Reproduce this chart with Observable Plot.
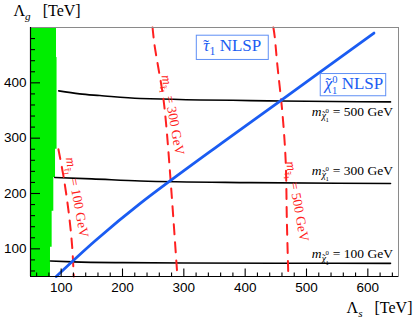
<!DOCTYPE html>
<html>
<head>
<meta charset="utf-8">
<script src="https://cdn.jsdelivr.net/npm/d3@7"></script>
<script src="https://cdn.jsdelivr.net/npm/@observablehq/plot@0.6"></script>
<style>
html,body{margin:0;padding:0;background:#fff;}
#chart svg{display:block;}
</style>
</head>
<body>
<div id="chart"></div>
<script>
// ---------------- data ----------------
const xDomain = [50, 650];
const yDomain = [50, 500];
const xTicks = [100, 200, 300, 400, 500, 600];
const yTicks = [100, 200, 300, 400];
const xMinor = d3.range(60, 650, 20).filter(v => v % 100 !== 0);
const yMinor = d3.range(60, 500, 20).filter(v => v % 100 !== 0);

const titleX = "Λs [TeV]";
const titleY = "Λg [TeV]";

// excluded (green) region, stepped right edge
const greenYLow  = [50, 103, 168, 229, 280, 446];
const greenYHigh = [103, 168, 229, 280, 446, 500];
const greenXEdge = [82.6, 85.3, 88, 90.8, 93.3, 92.4];

// neutralino mass contours (black)
const chi100X = [82.6, 120, 200, 300, 450, 637];
const chi100Y = [78, 76.5, 75, 74.3, 74, 73.8];
const chi300X = [89.6, 150, 229, 409, 637];
const chi300Y = [229, 226.5, 222.6, 219.7, 218];
const chi500X = [96, 130, 163, 229, 458, 637];
const chi500Y = [385.4, 380, 377, 371.6, 367.3, 365.5];

// stau mass contours (red dashed)
const stau100X = [95.5, 104.4, 112.5, 118, 120.5];
const stau100Y = [280, 227, 164, 103, 50];
const stau300X = [249, 252, 258, 266, 271, 280, 289.5];
const stau300Y = [500, 470, 430, 377, 327, 200, 50];
const stau500X = [446, 448, 452.5, 460.6, 466, 468, 470.4];
const stau500Y = [500, 485, 432, 347, 260, 150, 50];

// NLSP boundary (blue)
const nlspLineX = [92, 156, 229, 368, 458, 610];
const nlspLineY = [50, 115, 182, 296, 368, 490];

// labels
const stauLabels = ["mτ̃1 = 100 GeV", "mτ̃1 = 300 GeV", "mτ̃1 = 500 GeV"];
const stauLabelX = [126, 282, 485];
const stauLabelY = [193, 342, 186];
const chiLabels = ["mχ̃10 = 100 GeV", "mχ̃10 = 300 GeV", "mχ̃10 = 500 GeV"];
const chiLabelX = [641, 641, 641];
const chiLabelY = [90.9, 241.7, 347.7];
const nlspLabels = ["τ̃1 NLSP", "χ̃10 NLSP"];
const nlspLabelX = [379, 577.4];
const nlspLabelY = [467, 398.7];

// ---------------- build rows ----------------
const greenRows = greenYLow.flatMap((y1, i) => [
  {y: y1, x1: xDomain[0], x2: greenXEdge[i]},
  {y: greenYHigh[i], x1: xDomain[0], x2: greenXEdge[i]}
]);
const zip = (X, Y, k) => X.map((x, i) => ({x, y: Y[i], k}));
const chiRows = [...zip(chi100X, chi100Y, 100), ...zip(chi300X, chi300Y, 300), ...zip(chi500X, chi500Y, 500)];
const stauRows = [...zip(stau100X, stau100Y, 100), ...zip(stau300X, stau300Y, 300), ...zip(stau500X, stau500Y, 500)];
const nlspRows = zip(nlspLineX, nlspLineY, 0);
const stauLabelRows = stauLabels.map((t, i) => ({t, x: stauLabelX[i], y: stauLabelY[i]}));
const chiLabelRows = chiLabels.map((t, i) => ({t, x: chiLabelX[i], y: chiLabelY[i]}));
const nlspLabelRows = nlspLabels.map((t, i) => ({t, x: nlspLabelX[i], y: nlspLabelY[i]}));

const serif = "Liberation Serif, Times New Roman, serif";
const RED = "#ff2020", BLUE = "#1a5cf2", GREEN = "#00ee00";
const W = 415, H = 318, ML = 30, MR = 17, MT = 27, MB = 42;
const FW = W - ML - MR, FH = H - MT - MB;

const chart = Plot.plot({
  width: W,
  height: H,
  marginLeft: ML, marginRight: MR, marginTop: MT, marginBottom: MB,
  style: {fontFamily: "Liberation Sans, Arial, sans-serif", fontSize: "13.5px", background: "#fff", color: "#000", overflow: "visible"},
  x: {domain: xDomain, label: null},
  y: {domain: yDomain, label: null},
  marks: [
    Plot.areaX(greenRows, {y: "y", x1: "x1", x2: "x2", fill: GREEN, curve: "linear"}),
    Plot.line(chiRows, {x: "x", y: "y", z: "k", stroke: "#000", strokeWidth: 1.6, curve: "monotone-x"}),
    Plot.line(stauRows, {x: "x", y: "y", z: "k", stroke: RED, strokeWidth: 2, strokeDasharray: "10,8", curve: "catmull-rom"}),
    Plot.line(nlspRows, {x: "x", y: "y", stroke: BLUE, strokeWidth: 2.8, curve: "catmull-rom"}),
    Plot.text(stauLabelRows, {x: "x", y: "y", text: "t", rotate: 80, fill: RED, fontSize: 13.5, fontFamily: serif}),
    Plot.text(chiLabelRows, {x: "x", y: "y", text: "t", textAnchor: "end", fill: "#000", fontSize: 13.5, fontFamily: serif}),
    Plot.text(nlspLabelRows, {x: "x", y: "y", text: "t", fill: BLUE, fontSize: 17, fontFamily: serif}),
    // tick labels
    Plot.axisX(xTicks, {tickSize: 0, tickPadding: 6, label: null}),
    Plot.axisY(yTicks, {tickSize: 0, tickPadding: 4, label: null}),
    // inward tick marks (rules clipped to tick length by insets)
    Plot.ruleX(xTicks, {x: d => d, insetTop: FH - 7.5, stroke: "#000", strokeWidth: 1.1}),
    Plot.ruleX(xMinor, {x: d => d, insetTop: FH - 3.5, stroke: "#000", strokeWidth: 1.1}),
    Plot.ruleY(yTicks, {y: d => d, insetRight: FW - 10, stroke: "#000", strokeWidth: 1.1}),
    Plot.ruleY(yMinor, {y: d => d, insetRight: FW - 5, stroke: "#000", strokeWidth: 1.1}),
    Plot.frame({stroke: "#8a8a8a"}),
    Plot.ruleX([xDomain[0]], {stroke: "#000", strokeWidth: 1.2}),
    Plot.ruleY([yDomain[0]], {stroke: "#000", strokeWidth: 1.2}),
    // axis titles
    Plot.text([titleY], {x: () => xDomain[0], y: () => yDomain[1], dx: -17, dy: -12, textAnchor: "start", lineAnchor: "bottom", fontSize: 16, fontFamily: serif, fill: "#000"}),
    Plot.text([titleX], {x: () => xDomain[1], y: () => yDomain[0], dx: 14, dy: 36, textAnchor: "end", lineAnchor: "bottom", fontSize: 16, fontFamily: serif, fill: "#000"})
  ]
});
document.getElementById("chart").appendChild(chart);

// ---------------- rich text (sub/superscripts, tildes) ----------------
const NS = "http://www.w3.org/2000/svg";
function rich(el, segs, fs) {
  while (el.firstChild) el.removeChild(el.firstChild);
  for (const s of segs) {
    const t = document.createElementNS(NS, "tspan");
    t.textContent = s.t;
    if (s.i) t.setAttribute("font-style", "italic");
    if (s.s) t.setAttribute("font-size", (fs * s.s).toFixed(2));
    if (s.dy) t.setAttribute("dy", (fs * s.dy).toFixed(2));
    if (s.dx) t.setAttribute("dx", (fs * s.dx).toFixed(2));
    el.appendChild(t);
  }
}
const nb = "\u00a0";
const TL = "\u02dc";
const stauSegs = m => [
  {t: "m", i: 1},
  {t: "τ", i: 1, s: 0.72, dy: 0.25, dx: 0.02},
  {t: TL, s: 0.72, dx: -0.25},
  {t: "1", s: 0.55, dy: 0.1, dx: 0.0},
  {t: nb + "=" + nb + m + nb + "GeV", dy: -0.35, dx: 0.05}
];
const chiSegs = m => [
  {t: "m", i: 1},
  {t: "χ", i: 1, s: 0.72, dy: 0.25, dx: 0.02},
  {t: TL, s: 0.72, dx: -0.28},
  {t: "0", s: 0.5, dy: -0.5},
  {t: "1", s: 0.5, dx: -0.26, dy: 0.72},
  {t: nb + "=" + nb + m + nb + "GeV", dy: -0.47, dx: 0.05}
];
const specs = {};
specs[titleY] = {fs: 16, segs: [{t: "Λ"}, {t: "g", i: 1, s: 0.7, dy: 0.3}, {t: "[TeV]", dy: -0.3, dx: 0.75}]};
specs[titleX] = {fs: 16, segs: [{t: "Λ"}, {t: "s", i: 1, s: 0.7, dy: 0.3}, {t: "[TeV]", dy: -0.3, dx: 0.75}]};
stauLabels.forEach(l => specs[l] = {fs: 13.5, segs: stauSegs(l.match(/\d+(?= GeV)/)[0])});
chiLabels.forEach(l => specs[l] = {fs: 13.5, segs: chiSegs(l.match(/\d+(?= GeV)/)[0])});
specs[nlspLabels[0]] = {fs: 17, box: [7, 1], segs: [{t: "τ", i: 1}, {t: TL, dx: -0.36}, {t: "1", s: 0.7, dy: 0.25, dx: 0.03}, {t: nb + "NLSP", dy: -0.25}]};
specs[nlspLabels[1]] = {fs: 17, box: [2.5, 0], segs: [{t: "χ", i: 1}, {t: TL, dx: -0.4}, {t: "0", s: 0.62, dy: -0.38, dx: 0.06}, {t: "1", s: 0.62, dx: -0.31, dy: 0.66}, {t: nb + "NLSP", dy: -0.28}]};

chart.querySelectorAll("text").forEach(el => {
  const spec = specs[el.textContent];
  if (!spec) return;
  rich(el, spec.segs, spec.fs);
  if (spec.box) {
    const bb = el.getBBox();
    const r = document.createElementNS(NS, "rect");
    r.setAttribute("x", bb.x - spec.box[0]);
    r.setAttribute("y", bb.y - spec.box[1]);
    r.setAttribute("width", bb.width + 2 * spec.box[0]);
    r.setAttribute("height", bb.height + 2 * spec.box[1]);
    r.setAttribute("fill", "#fff");
    r.setAttribute("stroke", "#5f8ff5");
    r.setAttribute("stroke-width", "1");
    const tr = el.getAttribute("transform");
    if (tr) r.setAttribute("transform", tr);
    el.parentNode.insertBefore(r, el);
  }
});
</script>
</body>
</html>
